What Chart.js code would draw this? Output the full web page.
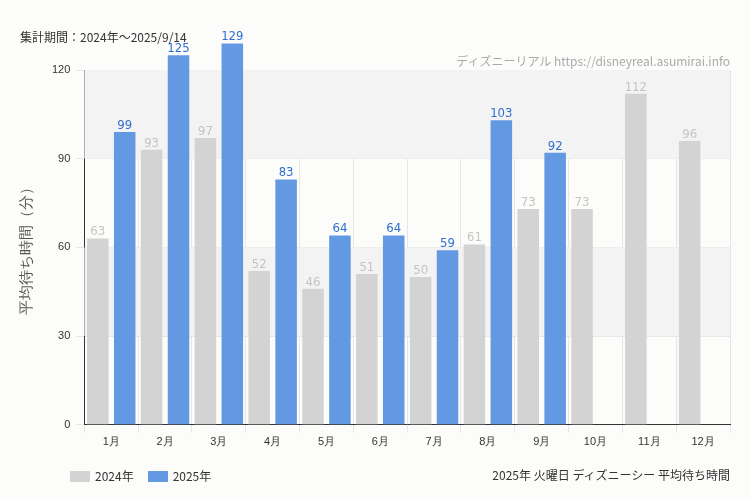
<!DOCTYPE html>
<html><head><meta charset="utf-8">
<script src="https://cdn.jsdelivr.net/npm/chart.js@4"></script>
<style>
body{margin:0;background:#fcfdfa;font-family:"Noto Sans CJK JP","Noto Sans",sans-serif;}
#w{position:relative;width:750px;height:500px;}
.t{position:absolute;font-size:12px;color:#333;white-space:nowrap}
.sw{display:inline-block;width:20px;height:11px;vertical-align:-1px;margin-right:5px}
</style></head><body>
<div id="w"><canvas id="c" width="750" height="500"></canvas>
<div class="t" style="left:20px;top:28px">集計期間：2024年～2025/9/14</div>
<div class="t" style="right:20px;top:52px;color:#aaa">ディズニーリアル https://disneyreal.asumirai.info</div>
<div class="t" style="left:70px;top:467px"><span class="sw" style="background:#d3d3d3"></span>2024年<span class="sw" style="background:#6399e3;margin-left:14px"></span>2025年</div>
<div class="t" style="right:20px;top:466px">2025年 火曜日 ディズニーシー 平均待ち時間</div>
</div>
<script>
const categories=["1月","2月","3月","4月","5月","6月","7月","8月","9月","10月","11月","12月"];
const values2024=[63,93,97,52,46,51,50,61,73,73,112,96];
const values2025=[99,125,129,83,64,64,59,103,92,null,null,null];
const yTicks=[0,30,60,90,120];
const colors={a:"#d3d3d3",b:"#6399e3"};
const bands={id:"bands",beforeDatasetsDraw(ch){const {ctx,chartArea:a,scales:{y}}=ch;ctx.save();ctx.fillStyle="#f3f3f3";[[90,120],[30,60]].forEach(([l,h])=>{ctx.fillRect(a.left,y.getPixelForValue(h),a.right-a.left,y.getPixelForValue(l)-y.getPixelForValue(h));});ctx.restore();}};
const labels={id:"lbl",afterDatasetsDraw(ch){const ctx=ch.ctx;ctx.save();ctx.font="13px 'DejaVu Sans Condensed','Liberation Sans Narrow',sans-serif";ctx.textAlign="center";ctx.textBaseline="bottom";ch.data.datasets.forEach((d,i)=>{ctx.fillStyle=i?"#2f6fd1":"#c4c4c4";ch.getDatasetMeta(i).data.forEach((b,j)=>{if(d.data[j]!=null)ctx.fillText(d.data[j],b.x,b.y);});});ctx.restore();}};
new Chart(document.getElementById("c"),{type:"bar",
data:{labels:categories,datasets:[
{label:"2024年",data:values2024,backgroundColor:colors.a,barPercentage:0.8,categoryPercentage:1},
{label:"2025年",data:values2025,backgroundColor:colors.b,barPercentage:0.8,categoryPercentage:1}]},
options:{responsive:false,animation:false,clip:false,
layout:{padding:{top:70,right:20,left:14,bottom:48}},
plugins:{legend:{display:false},tooltip:{enabled:false}},
scales:{x:{grid:{color:"#e6e6e6",drawTicks:true},border:{color:"#333"},ticks:{color:"#333",font:{size:11}}},
y:{min:0,max:120,afterBuildTicks(s){s.ticks=yTicks.map(v=>({value:v}));},grid:{color:"#e6e6e6"},border:{color:"#333"},ticks:{color:"#333",font:{size:11},padding:6},
title:{display:true,text:"平均待ち時間（分）",color:"#555",font:{size:15},padding:{bottom:10}}}}},
plugins:[bands,labels]});
</script></body></html>
